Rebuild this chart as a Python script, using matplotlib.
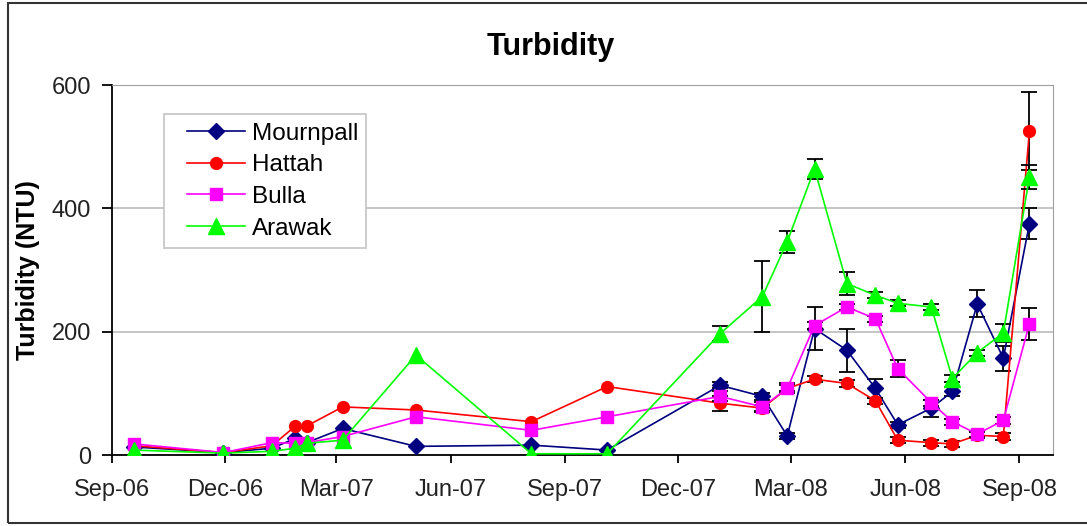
import numpy as np
import matplotlib
matplotlib.use("Agg")
import matplotlib.pyplot as plt
import matplotlib.dates as mdates
from matplotlib.patches import Rectangle
from matplotlib.legend_handler import HandlerLine2D
from datetime import datetime

plt.rcParams['font.family'] = ['Liberation Sans', 'DejaVu Sans']

# sampling dates
dates = ["2006-09-19", "2006-11-30", "2007-01-08", "2007-01-27", "2007-02-05",
         "2007-03-06", "2007-05-04", "2007-08-05", "2007-10-05", "2008-01-04",
         "2008-02-07", "2008-02-27", "2008-03-20", "2008-04-15", "2008-05-08",
         "2008-05-26", "2008-06-22", "2008-07-09", "2008-07-29", "2008-08-19",
         "2008-09-09"]

mournpall = [13, 4, 11, 27, 20, 43, 14, 16, 8, 113, 95, 31, 205, 170, 108,
             49, 76, 103, 245, 157, 375]
hattah = [15, 4, 15, 47, 47, 78, 73, 54, 111, 84, 76, 108, 123, 116, 88,
          24, 20, 18, 32, 30, 525]
bulla = [18, 4, 20, 19, 20, 30, 62, 40, 62, 95, 78, 108, 210, 240, 221,
         140, 85, 54, 34, 56, 213]
arawak = [8, 3, 6, 11, 19, 24, 162, 2, 2, 197, 257, 346, 464, 278, 259,
          246, 240, 124, 166, 198, 451]

# standard errors (nan = no error bar)
n = np.nan
mournpall_err = [n, n, n, n, n, n, n, n, n, 5, 5, 5, 35, 35, 16, 5, 14, 8, 22, 20, 25]
hattah_err = [n, n, n, n, n, n, n, n, n, 12, 5, 5, 5, 5, 5, 5, 5, 5, 5, 5, 63]
bulla_err = [n, n, n, n, n, n, n, n, n, 8, 8, 8, 5, 5, 5, 14, 5, 5, 5, 5, 26]
arawak_err = [n, n, n, n, n, n, n, n, n, 12, 57, 18, 16, 18, 5, 5, 5, 5, 5, 15, 19]

tick_dates = ["2006-09-01", "2006-12-01", "2007-03-01", "2007-06-01", "2007-09-01",
              "2007-12-01", "2008-03-01", "2008-06-01", "2008-09-01"]

x = [datetime.strptime(d, "%Y-%m-%d") for d in dates]
ticks = [datetime.strptime(d, "%Y-%m-%d") for d in tick_dates]

series = [
    ("Mournpall", mournpall, mournpall_err, "#000080", "D", 8.0),
    ("Hattah", hattah, hattah_err, "#FF0000", "o", 8.5),
    ("Bulla", bulla, bulla_err, "#FF00FF", "s", 8.0),
    ("Arawak", arawak, arawak_err, "#00FF00", "^", 11.5),
]

fig = plt.figure(figsize=(10.87, 5.26), dpi=100)
ax = fig.add_axes([111.7 / 1087, 1 - 455 / 526, (1053 - 111.7) / 1087, 370 / 526])

lines = []
for i, (name, vals, err, col, mk, ms) in enumerate(series):
    ax.errorbar(x, vals, yerr=err, fmt='none', ecolor='black', elinewidth=1.3,
                capsize=6, capthick=1.3, zorder=2 + i)
    ln, = ax.plot(x, vals, color=col, marker=mk, markersize=ms, linewidth=1.2,
                  label=name, zorder=3 + i)
    lines.append(ln)

ax.set_ylim(0, 600)
ax.set_yticks([0, 200, 400, 600])
ax.set_xlim(datetime(2006, 9, 1), datetime(2008, 9, 28))
ax.set_xticks(ticks)
ax.xaxis.set_major_formatter(mdates.DateFormatter("%b-%y"))

ax.grid(axis='y', color='#c0c0c0', linewidth=1.3)
ax.set_axisbelow(True)
ax.spines['left'].set_color('black')
ax.spines['bottom'].set_color('black')
ax.spines['left'].set_linewidth(1.3)
ax.spines['bottom'].set_linewidth(1.3)
ax.spines['top'].set_color('#a0a0a0')
ax.spines['right'].set_color('#a0a0a0')
ax.tick_params(axis='y', direction='out', length=7, width=1.3, pad=8, labelsize=17)
ax.tick_params(axis='x', direction='out', length=6, width=1.3, pad=11, labelsize=17)
for lbl in ax.get_xticklabels() + ax.get_yticklabels():
    lbl.set_color('#222222')

leg = ax.legend(handles=lines, loc='upper left',
                bbox_to_anchor=((164 - 111.7) / 941.3, (455 - 114) / 370),
                fontsize=17.5, frameon=True, fancybox=False, framealpha=1,
                edgecolor='#c8c8c8', handlelength=3.0, handletextpad=0.25,
                labelspacing=0.4, borderpad=0.35, borderaxespad=0,
                handler_map={ln: HandlerLine2D(xpad=0.6) for ln in lines})
leg.get_frame().set_linewidth(1.3)

fig.text(551 / 1087, 1 - 55 / 526, "Turbidity", ha='center', va='baseline',
         fontsize=22, fontweight='bold')
fig.text(28 / 1087, 1 - 270 / 526, "Turbidity (NTU)", ha='center', va='center',
         rotation=90, fontsize=18, fontweight='bold')

# outer chart border
fig.patches.append(Rectangle((8 / 1087, 3 / 526), 1.2, 1 - 6 / 526, transform=fig.transFigure,
                             fill=False, edgecolor='#333333', linewidth=1.5))

fig.savefig("out.png", dpi=100)
